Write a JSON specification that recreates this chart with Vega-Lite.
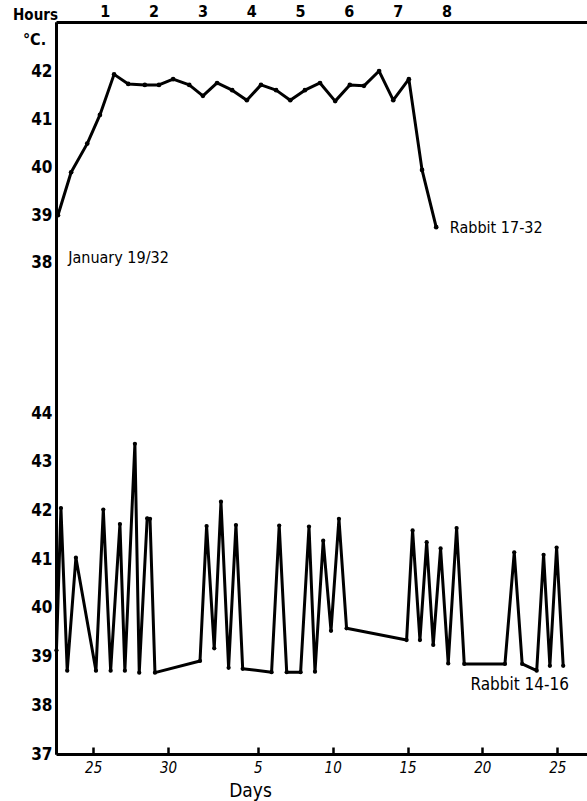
{
  "$schema": "https://vega.github.io/schema/vega-lite/v6.json",
  "width": 531,
  "height": 732,
  "autosize": {"type": "none"},
  "padding": {"left": 56, "top": 22, "right": 0, "bottom": 47},
  "background": "white",
  "config": {
    "view": {"stroke": null},
    "font": "DejaVu Sans Condensed",
    "axis": {
      "domainColor": "black",
      "domainWidth": 3,
      "labelColor": "black",
      "titleColor": "black",
      "grid": false,
      "labelFont": "DejaVu Sans Condensed",
      "titleFont": "DejaVu Sans Condensed"
    }
  },
  "datasets": {
    "hours": [
      {"hour": 0.04, "temp": 39.0},
      {"hour": 0.31, "temp": 39.9},
      {"hour": 0.64, "temp": 40.5},
      {"hour": 0.9, "temp": 41.1},
      {"hour": 1.19, "temp": 41.95},
      {"hour": 1.48, "temp": 41.75},
      {"hour": 1.82, "temp": 41.73},
      {"hour": 2.11, "temp": 41.73},
      {"hour": 2.4, "temp": 41.85},
      {"hour": 2.73, "temp": 41.73},
      {"hour": 3.01, "temp": 41.5},
      {"hour": 3.3, "temp": 41.77},
      {"hour": 3.61, "temp": 41.62},
      {"hour": 3.91, "temp": 41.41},
      {"hour": 4.2, "temp": 41.73},
      {"hour": 4.51, "temp": 41.62},
      {"hour": 4.8, "temp": 41.41},
      {"hour": 5.1, "temp": 41.62},
      {"hour": 5.41, "temp": 41.77},
      {"hour": 5.72, "temp": 41.39},
      {"hour": 6.02, "temp": 41.73},
      {"hour": 6.31, "temp": 41.71},
      {"hour": 6.62, "temp": 42.02},
      {"hour": 6.91, "temp": 41.41},
      {"hour": 7.23, "temp": 41.85},
      {"hour": 7.5, "temp": 39.95},
      {"hour": 7.79, "temp": 38.75}
    ],
    "days": [
      {"day": 22.55, "temp": 39.13},
      {"day": 22.85, "temp": 42.05},
      {"day": 23.27, "temp": 38.71},
      {"day": 23.85, "temp": 41.03},
      {"day": 25.19, "temp": 38.71},
      {"day": 25.68, "temp": 42.02},
      {"day": 26.17, "temp": 38.71},
      {"day": 26.79, "temp": 41.72},
      {"day": 27.12, "temp": 38.71},
      {"day": 27.79, "temp": 43.37},
      {"day": 28.08, "temp": 38.67},
      {"day": 28.61, "temp": 41.84},
      {"day": 28.8, "temp": 41.83},
      {"day": 29.13, "temp": 38.67},
      {"day": 32.14, "temp": 38.91},
      {"day": 32.58, "temp": 41.68},
      {"day": 33.09, "temp": 39.17},
      {"day": 33.54, "temp": 42.18},
      {"day": 34.05, "temp": 38.77},
      {"day": 34.54, "temp": 41.7},
      {"day": 34.99, "temp": 38.75},
      {"day": 36.92, "temp": 38.68},
      {"day": 37.43, "temp": 41.69},
      {"day": 37.93, "temp": 38.68},
      {"day": 38.86, "temp": 38.68},
      {"day": 39.42, "temp": 41.67},
      {"day": 39.82, "temp": 38.69},
      {"day": 40.37, "temp": 41.38},
      {"day": 40.89, "temp": 39.53},
      {"day": 41.42, "temp": 41.83},
      {"day": 41.93, "temp": 39.58},
      {"day": 45.94, "temp": 39.34},
      {"day": 46.34, "temp": 41.59},
      {"day": 46.83, "temp": 39.34},
      {"day": 47.28, "temp": 41.35},
      {"day": 47.72, "temp": 39.24},
      {"day": 48.21, "temp": 41.22},
      {"day": 48.72, "temp": 38.86},
      {"day": 49.28, "temp": 41.64},
      {"day": 49.79, "temp": 38.85},
      {"day": 52.51, "temp": 38.85},
      {"day": 53.13, "temp": 41.14},
      {"day": 53.66, "temp": 38.85},
      {"day": 54.63, "temp": 38.71},
      {"day": 55.09, "temp": 41.09},
      {"day": 55.51, "temp": 38.81},
      {"day": 55.96, "temp": 41.24},
      {"day": 56.4, "temp": 38.81}
    ]
  },
  "layer": [
    {
      "data": {"name": "hours"},
      "layer": [
        {
          "mark": {
            "type": "line",
            "color": "black",
            "strokeWidth": 3,
            "strokeJoin": "round",
            "point": {"filled": true, "color": "black", "size": 22}
          },
          "encoding": {
            "x": {
              "field": "hour",
              "type": "quantitative",
              "scale": {"domain": [0, 10.88], "nice": false, "zero": false},
              "axis": {
                "orient": "top",
                "values": [1, 2, 3, 4, 5, 6, 7, 8],
                "ticks": false,
                "labelFontSize": 16,
                "labelFontWeight": "bold",
                "labelPadding": 3,
                "title": "Hours",
                "titleFontSize": 15,
                "titleFontWeight": "bold",
                "titleAngle": 0,
                "titleAlign": "center",
                "titleBaseline": "middle",
                "titleX": -21,
                "titleY": -8
              }
            },
            "y": {
              "field": "temp",
              "type": "quantitative",
              "scale": {"domain": [27.717, 43.047], "nice": false, "zero": false},
              "axis": {
                "orient": "left",
                "values": [38, 39, 40, 41, 42],
                "ticks": false,
                "labelFontSize": 17,
                "labelFontWeight": "bold",
                "labelPadding": 4,
                "title": "°C.",
                "titleFontSize": 16,
                "titleFontWeight": "bold",
                "titleAngle": 0,
                "titleAlign": "center",
                "titleBaseline": "middle",
                "titleX": -22,
                "titleY": 17
              }
            }
          }
        },
        {
          "data": {
            "values": [
              {"hour": 8.07, "temp": 38.73, "label": "Rabbit 17-32"},
              {"hour": 0.25, "temp": 38.1, "label": "January 19/32"}
            ]
          },
          "mark": {"type": "text", "align": "left", "baseline": "middle", "fontSize": 16, "color": "black"},
          "encoding": {
            "x": {"field": "hour", "type": "quantitative"},
            "y": {"field": "temp", "type": "quantitative"},
            "text": {"field": "label"}
          }
        }
      ]
    },
    {
      "data": {"name": "days"},
      "layer": [
        {
          "mark": {
            "type": "line",
            "color": "black",
            "strokeWidth": 3,
            "strokeJoin": "round",
            "point": {"filled": true, "color": "black", "size": 18}
          },
          "encoding": {
            "x": {
              "field": "day",
              "type": "quantitative",
              "scale": {"domain": [22.52, 57.99], "nice": false, "zero": false},
              "axis": {
                "orient": "bottom",
                "values": [25, 30, 36, 41, 46, 51, 56],
                "labelExpr": "datum.value > 31 ? datum.value - 31 : datum.value",
                "ticks": true,
                "tickSize": -7,
                "tickWidth": 2.5,
                "tickColor": "black",
                "labelFontSize": 15,
                "labelFontStyle": "italic",
                "labelPadding": 13,
                "title": "Days",
                "titleFontSize": 19,
                "titleFontWeight": "normal",
                "titleAlign": "center",
                "titleBaseline": "middle",
                "titleX": 194,
                "titleY": 36
              }
            },
            "y": {
              "field": "temp",
              "type": "quantitative",
              "scale": {"domain": [37, 52.03], "nice": false, "zero": false},
              "axis": {
                "orient": "left",
                "values": [37, 38, 39, 40, 41, 42, 43, 44],
                "ticks": false,
                "labelFontSize": 17,
                "labelFontWeight": "bold",
                "labelPadding": 4,
                "title": null
              }
            }
          }
        },
        {
          "data": {"values": [{"day": 50.2, "temp": 38.42, "label": "Rabbit 14-16"}]},
          "mark": {"type": "text", "align": "left", "baseline": "middle", "fontSize": 17, "color": "black"},
          "encoding": {
            "x": {"field": "day", "type": "quantitative"},
            "y": {"field": "temp", "type": "quantitative"},
            "text": {"field": "label"}
          }
        }
      ]
    }
  ],
  "resolve": {
    "scale": {"x": "independent", "y": "independent"},
    "axis": {"x": "independent", "y": "independent"}
  }
}
